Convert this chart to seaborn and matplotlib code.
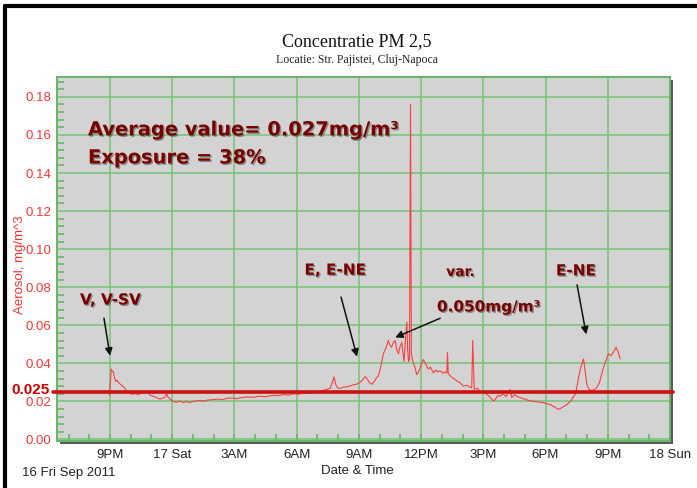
import matplotlib
matplotlib.use("Agg")
import matplotlib.pyplot as plt
import matplotlib.patheffects as pe
import matplotlib.transforms as mtransforms
from matplotlib.patches import Rectangle
from matplotlib.lines import Line2D
from matplotlib.ticker import FixedLocator, MultipleLocator
import pandas as pd
import seaborn as sns

# Hours counted from Fri 16 Sep 2011 00:00
hours = [
    20.97, 21.02, 21.06, 21.10, 21.16, 21.22, 21.28, 21.34, 21.40, 21.50,
    21.61, 21.70, 21.80, 21.90, 22.05, 22.20, 22.35, 22.45, 22.60, 22.77,
    22.85, 22.93, 23.10, 23.25, 23.41, 23.55, 23.65, 23.73, 23.80, 23.89,
    24.05, 24.20, 24.35, 24.50, 24.70, 24.85, 25.00, 25.20, 25.34, 25.50,
    25.70, 25.97, 26.20, 26.40, 26.63, 26.90, 27.10, 27.30, 27.59, 27.90,
    28.20, 28.50, 28.87, 29.10, 29.40, 29.60, 29.84, 30.10, 30.40, 30.60,
    30.80, 31.00, 31.20, 31.45, 31.62, 31.72, 31.80, 31.88, 31.96, 32.10,
    32.25, 32.41, 32.60, 32.75, 32.89, 33.05, 33.15, 33.30, 33.40, 33.50,
    33.62, 33.75, 33.85, 33.94, 34.05, 34.18, 34.30, 34.42, 34.50, 34.58,
    34.66, 34.75, 34.83, 34.91, 34.99, 35.07, 35.13, 35.18, 35.24, 35.31,
    35.35, 35.39, 35.44, 35.49, 35.53, 35.60, 35.70, 35.79, 35.90, 36.00,
    36.11, 36.20, 36.35, 36.45, 36.59, 36.70, 36.80, 36.92, 37.05, 37.15,
    37.24, 37.27, 37.31, 37.45, 37.60, 37.72, 37.85, 38.04, 38.20, 38.35,
    38.44, 38.49, 38.56, 38.70, 38.85, 39.01, 39.15, 39.30, 39.49, 39.60,
    39.70, 39.81, 39.95, 40.10, 40.20, 40.29, 40.37, 40.50, 40.65, 40.77,
    40.90, 41.05, 41.26, 41.45, 41.70, 41.90, 42.05, 42.22, 42.40, 42.62,
    42.80, 43.03, 43.20, 43.35, 43.43, 43.52, 43.59, 43.70, 43.83, 43.92,
    43.99, 44.10, 44.23, 44.35, 44.47, 44.60, 44.79, 44.90, 45.03, 45.15,
    45.27, 45.40, 45.50, 45.59,
]

# PM 2.5 aerosol concentration, mg/m^3
aerosol = [
    0.0233, 0.0300, 0.0370, 0.0360, 0.0355, 0.0320, 0.0305, 0.0312, 0.0300, 0.0290,
    0.0280, 0.0272, 0.0255, 0.0248, 0.0237, 0.0242, 0.0236, 0.0240, 0.0246, 0.0255,
    0.0245, 0.0233, 0.0226, 0.0220, 0.0212, 0.0218, 0.0222, 0.0240, 0.0222, 0.0212,
    0.0200, 0.0196, 0.0201, 0.0195, 0.0198, 0.0194, 0.0200, 0.0203, 0.0205, 0.0201,
    0.0207, 0.0210, 0.0212, 0.0209, 0.0216, 0.0218, 0.0214, 0.0220, 0.0223, 0.0222,
    0.0227, 0.0225, 0.0232, 0.0230, 0.0236, 0.0233, 0.0240, 0.0238, 0.0244, 0.0242,
    0.0250, 0.0248, 0.0256, 0.0263, 0.0270, 0.0300, 0.0329, 0.0290, 0.0272, 0.0268,
    0.0275, 0.0276, 0.0282, 0.0288, 0.0290, 0.0300, 0.0310, 0.0330, 0.0318, 0.0300,
    0.0290, 0.0305, 0.0325, 0.0334, 0.0380, 0.0450, 0.0480, 0.0520, 0.0495, 0.0485,
    0.0510, 0.0520, 0.0470, 0.0450, 0.0490, 0.0510, 0.0450, 0.0410, 0.0520, 0.0617,
    0.0480, 0.0410, 0.0420, 0.1760, 0.0450, 0.0410, 0.0380, 0.0340, 0.0360, 0.0390,
    0.0420, 0.0400, 0.0370, 0.0380, 0.0350, 0.0365, 0.0355, 0.0360, 0.0348, 0.0355,
    0.0350, 0.0458, 0.0345, 0.0330, 0.0318, 0.0308, 0.0300, 0.0280, 0.0285, 0.0275,
    0.0272, 0.0520, 0.0263, 0.0270, 0.0255, 0.0246, 0.0238, 0.0225, 0.0202, 0.0215,
    0.0230, 0.0228, 0.0240, 0.0225, 0.0250, 0.0263, 0.0220, 0.0235, 0.0225, 0.0220,
    0.0215, 0.0210, 0.0202, 0.0200, 0.0196, 0.0193, 0.0188, 0.0184, 0.0172, 0.0158,
    0.0168, 0.0184, 0.0200, 0.0225, 0.0237, 0.0280, 0.0325, 0.0380, 0.0423, 0.0350,
    0.0290, 0.0262, 0.0258, 0.0262, 0.0272, 0.0300, 0.0378, 0.0410, 0.0450, 0.0440,
    0.0458, 0.0485, 0.0460, 0.0423,
]

x_ticks = [21, 24, 27, 30, 33, 36, 39, 42, 45, 48]
x_labels = ["9PM", "17 Sat", "3AM", "6AM", "9AM", "12PM", "3PM", "6PM", "9PM", "18 Sun"]
y_ticks = [0.00, 0.02, 0.04, 0.06, 0.08, 0.10, 0.12, 0.14, 0.16, 0.18]

limit_value = 0.025
average_value = 0.027
exposure_pct = 38
peak_value = 0.050

df = pd.DataFrame({"hours": hours, "aerosol": aerosol})

sns.set_theme(style="white")
plt.rcParams["font.family"] = ["Liberation Sans", "DejaVu Sans"]

W, H = 697, 488
fig = plt.figure(figsize=(W / 100, H / 100), dpi=100)
fig.patch.set_facecolor("white")

ax_l, ax_r, ax_t, ax_b = 56.7, 670.0, 76.7, 441.0
ax = fig.add_axes([ax_l / W, 1 - ax_b / H, (ax_r - ax_l) / W, (ax_b - ax_t) / H])
ax.set_facecolor("#d3d3d3")

# drop shadow under the plot panel
fig.add_artist(Rectangle(((ax_l + 3) / W, 1 - (ax_b + 3) / H),
                         (ax_r - ax_l) / W, (ax_b - ax_t) / H,
                         transform=fig.transFigure, facecolor="#5a5a5a",
                         edgecolor="none", zorder=-1))

green = "#66b866"
sns.lineplot(data=df, x="hours", y="aerosol", estimator=None, color="#ff3030",
             lw=0.8, alpha=0.9, ax=ax, zorder=3)

ax.set_xlim(18.43, 48)
ax.set_ylim(-0.0008, 0.1906)

ax.xaxis.set_major_locator(FixedLocator(x_ticks))
ax.set_xticklabels(x_labels)
ax.xaxis.set_minor_locator(MultipleLocator(1))
ax.yaxis.set_major_locator(FixedLocator(y_ticks))
ax.set_yticklabels([f"{v:.2f}" for v in y_ticks])
ax.yaxis.set_minor_locator(MultipleLocator(0.004))

ax.grid(which="major", color="#6cc46c", lw=1.2, alpha=0.85)
ax.tick_params(axis="y", which="major", direction="inout", length=8, width=1.2,
               color=green, labelcolor="#ff3535", labelsize=9.5, pad=0)
ax.tick_params(axis="y", which="minor", direction="in", length=5, width=1.2,
               color=green, left=True)
ax.tick_params(axis="x", which="major", direction="in", length=5, width=1.2,
               color=green, labelcolor="#222222", labelsize=9.5, pad=6, bottom=True)
ax.tick_params(axis="x", which="minor", direction="in", length=5, width=1.2,
               color=green, bottom=True)
for s in ax.spines.values():
    s.set_color(green)
    s.set_linewidth(1.4)

ax.set_xlabel("")
ax.set_ylabel("Aerosol, mg/m^3", color="#ff3030", fontsize=9.5)
ax.yaxis.set_label_coords(-0.050, 0.483)

# threshold line and its label
blend = mtransforms.blended_transform_factory(ax.transAxes, ax.transData)
ax.plot([-0.006, 1.005], [limit_value, limit_value], transform=blend,
        color="#d01010", lw=2.6, clip_on=False, zorder=4)
label_shift = mtransforms.ScaledTranslation(0, 2.5 / 72, fig.dpi_scale_trans)
ax.text(-0.011, limit_value, f"{limit_value:.3f}", transform=blend + label_shift,
        ha="right", va="center_baseline", color="#cc0000", fontsize=11,
        fontweight="bold")

# titles and axis captions
fig.text(357 / W, 1 - 42 / H, "Concentratie PM 2,5", ha="center", va="center",
         family="Liberation Serif", fontsize=13, color="#111111")
fig.text(357 / W, 1 - 60 / H, "Locatie: Str. Pajistei, Cluj-Napoca", ha="center",
         va="center", family="Liberation Serif", fontsize=8.5, color="#222222")
fig.text(22 / W, 1 - 473 / H, "16 Fri Sep 2011", ha="left", va="center",
         fontsize=9.5, color="#222222")
fig.text(357 / W, 1 - 471 / H, "Date & Time", ha="center", va="center",
         fontsize=9.5, color="#222222")

# frame lines on the top and left of the canvas
fig.add_artist(Line2D([5 / W, 1], [1 - 6 / H, 1 - 6 / H], color="black", lw=3,
                      transform=fig.transFigure))
fig.add_artist(Line2D([5 / W, 5 / W], [1 - 6 / H, 0], color="black", lw=3,
                      transform=fig.transFigure))

note = dict(color="#7a0000", fontweight="bold", family="DejaVu Sans",
            path_effects=[pe.withSimplePatchShadow(offset=(1, -1),
                                                   shadow_rgbFace="#404040",
                                                   alpha=0.5)])
ax.text(0.051, 0.854, f"Average value= {average_value:.3f}mg/m³",
        transform=ax.transAxes, va="center", fontsize=14, **note)
ax.text(0.051, 0.777, f"Exposure = {exposure_pct}%",
        transform=ax.transAxes, va="center", fontsize=14, **note)
ax.text(0.038, 0.387, "V, V-SV", transform=ax.transAxes, va="center",
        fontsize=11, **note)
ax.text(0.404, 0.469, "E, E-NE", transform=ax.transAxes, va="center",
        fontsize=11, **note)
ax.text(0.635, 0.464, "var.", transform=ax.transAxes, va="center",
        fontsize=10, **note)
ax.text(0.62, 0.368, f"{peak_value:.3f}mg/m³", transform=ax.transAxes,
        va="center", fontsize=11, **note)
ax.text(0.814, 0.467, "E-NE", transform=ax.transAxes, va="center",
        fontsize=11, **note)

arrow = dict(arrowstyle="-|>", color="#111111", lw=1.1, mutation_scale=11,
             shrinkA=0, shrinkB=0)
ax.annotate("", xy=(21.0, 0.044), xytext=(20.71, 0.0637), arrowprops=arrow)
ax.annotate("", xy=(32.91, 0.0435), xytext=(32.14, 0.0748), arrowprops=arrow)
ax.annotate("", xy=(34.75, 0.0536), xytext=(36.92, 0.0637), arrowprops=arrow)
ax.annotate("", xy=(43.96, 0.0552), xytext=(43.52, 0.0812), arrowprops=arrow)

fig.savefig("out.png", dpi=100)
